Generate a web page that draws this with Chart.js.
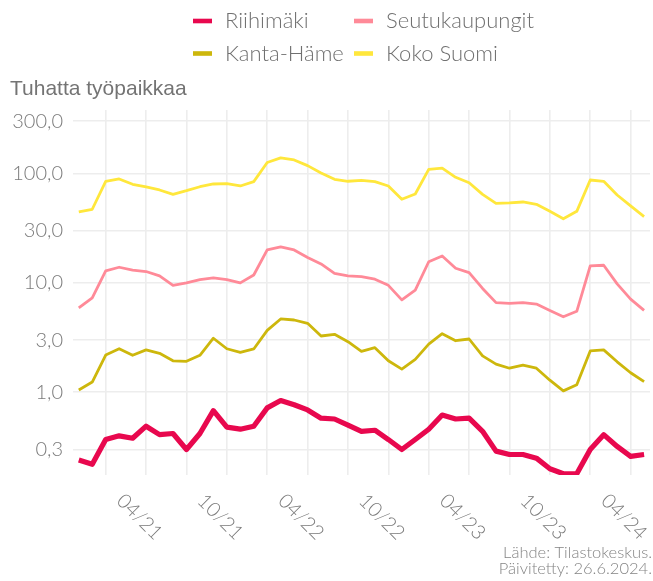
<!DOCTYPE html>
<html>
<head>
<meta charset="utf-8">
<script src="https://cdn.jsdelivr.net/npm/chart.js@4/dist/chart.umd.min.js"></script>
<style>
  body { margin: 0; background: #fff; }
  canvas { display: block; }
</style>
</head>
<body>
<canvas id="myChart" width="653" height="581"></canvas>
<script>
// kuukaudet 11/2020 - 05/2024
const months = [
  '11/20', '12/20',
  '01/21', '02/21', '03/21', '04/21', '05/21', '06/21', '07/21', '08/21', '09/21', '10/21', '11/21', '12/21',
  '01/22', '02/22', '03/22', '04/22', '05/22', '06/22', '07/22', '08/22', '09/22', '10/22', '11/22', '12/22',
  '01/23', '02/23', '03/23', '04/23', '05/23', '06/23', '07/23', '08/23', '09/23', '10/23', '11/23', '12/23',
  '01/24', '02/24', '03/24', '04/24', '05/24'
];
const gridMonths = ['01', '04', '07', '10'];
const labelMonths = ['04', '10'];
const yTicks = [0.3, 1, 3, 10, 30, 100, 300];

const seriesNames = ['Riihimäki', 'Seutukaupungit', 'Kanta-Häme', 'Koko Suomi'];
const seriesColors = ['#e8084e', '#ff8a98', '#cdb70c', '#ffe73c'];
const seriesWidths = [5.2, 2.8, 2.8, 2.8];

const riihimaki = [0.24, 0.22, 0.37, 0.40, 0.38, 0.49, 0.41, 0.42, 0.30, 0.42, 0.68, 0.48, 0.46, 0.49,
  0.72, 0.84, 0.77, 0.69, 0.58, 0.57, 0.50, 0.44, 0.45, 0.37, 0.30, 0.37,
  0.46, 0.62, 0.57, 0.58, 0.44, 0.29, 0.27, 0.27, 0.25, 0.20, 0.18, 0.18,
  0.30, 0.41, 0.32, 0.26, 0.27];
const seutukaupungit = [5.9, 7.3, 12.9, 13.9, 13.1, 12.7, 11.6, 9.5, 10.0, 10.7, 11.1, 10.7, 10.0, 11.8,
  20.0, 21.3, 20.0, 17.1, 14.9, 12.2, 11.6, 11.4, 10.8, 9.5, 7.0, 8.6,
  15.6, 17.6, 13.6, 12.4, 8.9, 6.6, 6.5, 6.6, 6.4, 5.6, 4.9, 5.5,
  14.3, 14.5, 9.8, 7.1, 5.6];
const kantaHame = [1.05, 1.24, 2.19, 2.50, 2.18, 2.44, 2.27, 1.94, 1.92, 2.18, 3.12, 2.50, 2.32, 2.49,
  3.68, 4.68, 4.58, 4.27, 3.27, 3.39, 2.90, 2.37, 2.56, 1.94, 1.63, 2.00,
  2.76, 3.43, 2.96, 3.07, 2.15, 1.81, 1.66, 1.77, 1.66, 1.29, 1.03, 1.17,
  2.39, 2.44, 1.90, 1.51, 1.25];
const kokoSuomi = [44.5, 47.1, 84.9, 89.1, 79.7, 75.3, 70.7, 64.5, 69.6, 75.7, 80.2, 80.7, 76.9, 84.2,
  126, 139, 133, 118, 101, 88.5, 84.9, 86.7, 84.2, 76.9, 58.1, 65.0,
  109, 112, 92.3, 82.4, 64.5, 53.4, 53.8, 54.9, 52.3, 45.1, 38.6, 45.1,
  87.2, 84.9, 63.6, 50.5, 40.3];

const seriesValues = [riihimaki, seutukaupungit, kantaHame, kokoSuomi];

const lightFont = '"Lato", "Noto Sans", sans-serif';
const tickColor = '#7b7b7b';
const gridColor = '#ededed';

const toPoints = arr => arr.map((v, i) => ({ x: i, y: v }));

// koristeet: selite, y-akselin otsikko, x-akselin kierretyt nimikkeet, lähde
const decor = {
  id: 'decor',
  afterDraw(chart) {
    const ctx = chart.ctx;
    const xScale = chart.scales.x;
    ctx.save();

    // selite 2x2
    ctx.font = '300 22px ' + lightFont;
    ctx.textBaseline = 'middle';
    ctx.textAlign = 'left';
    seriesNames.forEach((name, k) => {
      const col = k % 2, row = Math.floor(k / 2);
      const sx = col === 0 ? 193 : 354;
      const y = row === 0 ? 21 : 53.5;
      ctx.fillStyle = seriesColors[k];
      ctx.fillRect(sx, y - 2.3, 19, 4.6);
      ctx.fillStyle = '#707070';
      ctx.fillText(name, sx + 32, y);
    });

    // y-akselin otsikko
    ctx.font = '21px "Liberation Sans", Arial, sans-serif';
    ctx.fillStyle = '#747474';
    ctx.fillText('Tuhatta työpaikkaa', 10, 89);

    // x-nimikkeet
    ctx.font = '300 20px ' + lightFont;
    ctx.fillStyle = tickColor;
    ctx.textAlign = 'center';
    months.forEach((m, i) => {
      if (!labelMonths.includes(m.slice(0, 2))) return;
      const px = xScale.getPixelForValue(i);
      ctx.save();
      ctx.translate(px - 6.5, 517);
      ctx.rotate(Math.PI / 4);
      ctx.fillText(m, 0, 0);
      ctx.restore();
    });

    // lähde
    ctx.font = '300 16.5px ' + lightFont;
    ctx.fillStyle = '#858585';
    ctx.textAlign = 'right';
    ctx.fillText('Lähde: Tilastokeskus.', 652, 553);
    ctx.fillText('Päivitetty: 26.6.2024.', 652, 569);
    ctx.restore();
  }
};

let ctx = document.getElementById('myChart').getContext('2d');
let myChart = new Chart(ctx, {
  type: 'line',
  data: {
    datasets: seriesNames.map((name, k) => ({
      label: name,
      data: toPoints(seriesValues[k]),
      borderColor: seriesColors[k],
      backgroundColor: seriesColors[k],
      borderWidth: seriesWidths[k],
      borderJoinStyle: 'round',
      pointRadius: 0,
      tension: 0,
      order: k === 0 ? 0 : 1
    }))
  },
  options: {
    responsive: false,
    animation: false,
    devicePixelRatio: 1,
    layout: { padding: { top: 110, right: 3, left: 0, bottom: 0 } },
    plugins: {
      legend: { display: false },
      title: { display: false },
      tooltip: { enabled: false }
    },
    scales: {
      x: {
        type: 'linear',
        min: -0.43,
        max: 42.44,
        afterBuildTicks: scale => {
          scale.ticks = months
            .map((m, i) => gridMonths.includes(m.slice(0, 2)) ? { value: i } : null)
            .filter(t => t);
        },
        afterFit: scale => { scale.height = 106; },
        ticks: { display: false },
        grid: { color: gridColor, lineWidth: 1.6, drawTicks: false },
        border: { display: false }
      },
      y: {
        type: 'logarithmic',
        min: 0.1754,
        max: 380.5,
        afterBuildTicks: scale => {
          scale.ticks = yTicks.map(v => ({ value: v }));
        },
        afterFit: scale => { scale.width = 73; },
        ticks: {
          padding: 10,
          color: tickColor,
          font: { family: lightFont, size: 20, weight: '300' },
          callback: v => v.toFixed(1).replace('.', ',')
        },
        grid: { color: gridColor, lineWidth: 1.6, drawTicks: false },
        border: { display: false }
      }
    }
  },
  plugins: [decor]
});
</script>
</body>
</html>
